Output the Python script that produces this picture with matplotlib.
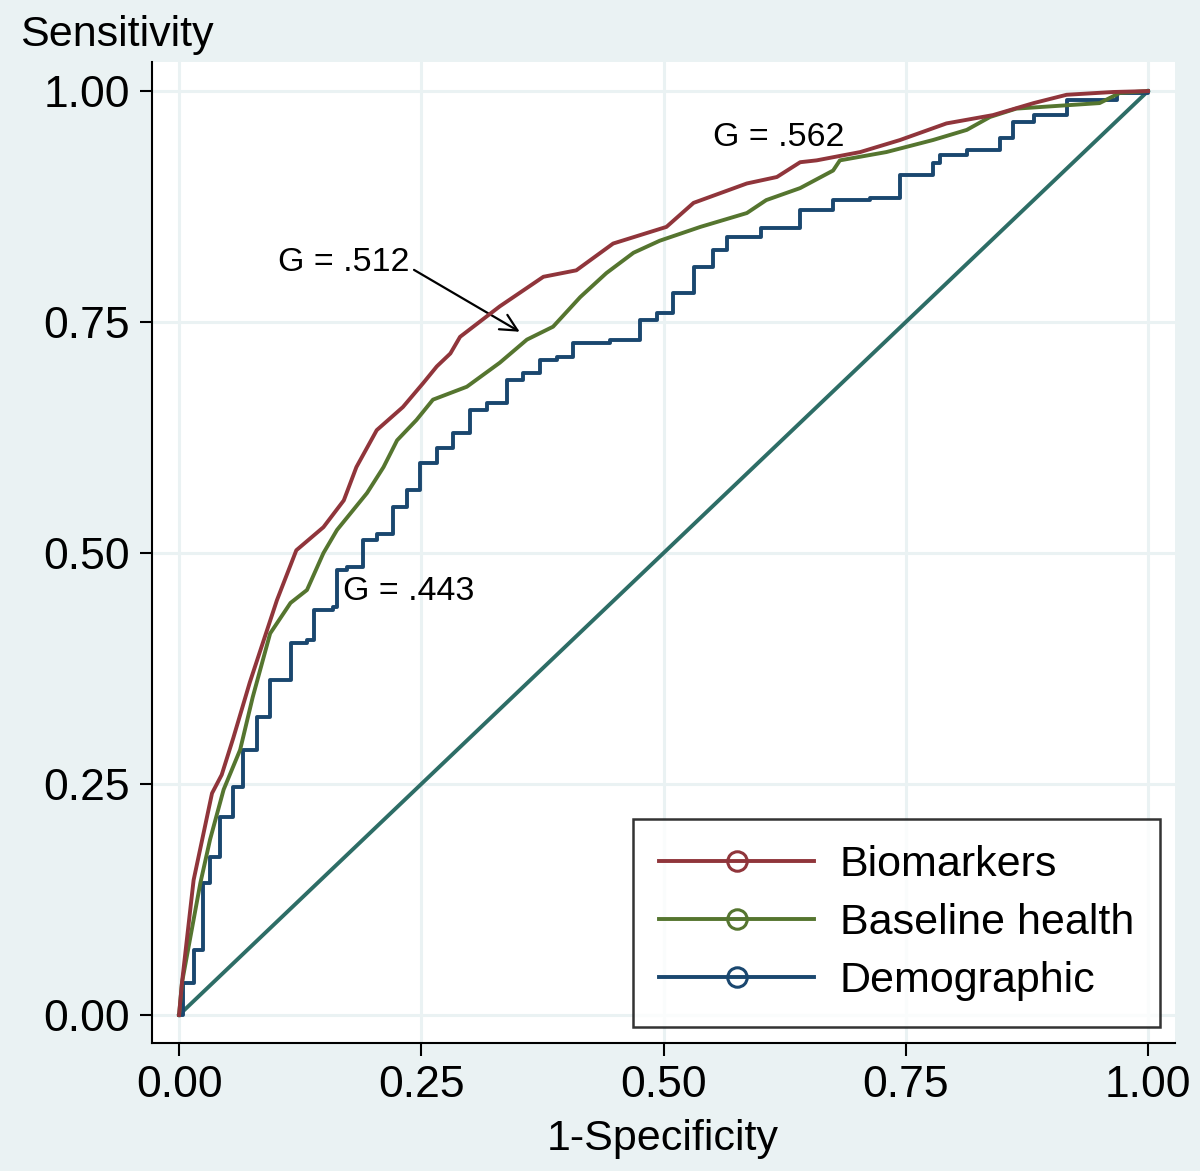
import matplotlib
matplotlib.use("Agg")
import matplotlib.pyplot as plt
from matplotlib.lines import Line2D

plt.rcParams['font.family'] = ['Liberation Sans', 'DejaVu Sans']

# Biomarkers (red)
bio_x = [0, .003, .015, .034, .044, .056, .073, .084, .101, .121, .149, .170, .183, .204, .231,
         .252, .266, .280, .290, .331, .376, .410, .448, .503, .531, .586, .617, .641, .658,
         .703, .744, .792, .840, .882, .916, .964, 1.0]
bio_y = [0, .035, .146, .24, .26, .30, .36, .395, .449, .503, .528, .557, .593, .633, .658,
         .684, .702, .716, .734, .767, .799, .806, .835, .853, .879, .900, .907, .923, .925,
         .934, .947, .965, .974, .987, .996, .999, 1.0]
# Baseline health (green)
base_x = [0, .003, .022, .032, .046, .063, .076, .094, .115, .132, .149, .163, .194, .211, .225,
          .245, .262, .297, .331, .359, .386, .414, .441, .469, .496, .538, .586, .606, .641,
          .675, .682, .730, .778, .813, .837, .864, .950, .971, 1.0]
base_y = [0, .035, .143, .19, .244, .287, .344, .413, .446, .46, .5, .525, .565, .593, .622,
          .644, .666, .68, .706, .731, .745, .777, .803, .825, .838, .853, .868, .882, .895,
          .914, .925, .934, .947, .958, .972, .981, .987, .998, 1.0]
# Demographic (blue)
demo_x = [0, .004, .015, .025, .032, .042, .056, .066, .080, .094, .115, .132, .139, .159, .163,
          .173, .190, .204, .221, .235, .249, .266, .283, .300, .318, .338, .355, .373, .390,
          .407, .445, .476, .493, .510, .531, .551, .566, .601, .641, .675, .713, .744, .778,
          .785, .813, .847, .861, .882, .916, .947, .968, 1.0]
demo_y = [0, .035, .07, .143, .171, .214, .247, .287, .323, .363, .403, .406, .438, .442, .482,
          .485, .514, .521, .55, .568, .597, .614, .630, .655, .662, .687, .695, .709, .712,
          .727, .731, .752, .76, .781, .81, .828, .842, .852, .871, .882, .884, .909, .922,
          .931, .936, .949, .967, .974, .990, .990, .998, 1.0]

ref_x = [0, 1]
ref_y = [0, 1]

ticks = [0, .25, .5, .75, 1.0]
tick_labels = ["0.00", "0.25", "0.50", "0.75", "1.00"]
series_names = ["Biomarkers", "Baseline health", "Demographic"]
colors = ["#90353B", "#55752F", "#1A476F"]
bg = "#EAF2F3"

fig = plt.figure(figsize=(12, 11.71), dpi=100, facecolor=bg)
ax = fig.add_axes([0.1267, 0.1093, 0.8525, 0.8377])
ax.set_facecolor("white")
ax.set_xlim(-0.0279, 1.0279)
ax.set_ylim(-0.0303, 1.0314)

for t in ticks:
    ax.axhline(t, color=bg, lw=2.2, zorder=0)
    ax.axvline(t, color=bg, lw=2.2, zorder=0)

lw = 2.8
ax.plot(ref_x, ref_y, color="#2D6D66", lw=lw, zorder=2)
ax.plot(demo_x, demo_y, color=colors[2], lw=lw, drawstyle='steps-post', zorder=3)
ax.plot(base_x, base_y, color=colors[1], lw=lw, zorder=4)
ax.plot(bio_x, bio_y, color=colors[0], lw=lw, zorder=5)

for s in ["top", "right"]:
    ax.spines[s].set_visible(False)
for s in ["left", "bottom"]:
    ax.spines[s].set_linewidth(1.5)
    ax.spines[s].set_color("black")

ax.set_xticks(ticks)
ax.set_xticklabels(tick_labels)
ax.set_yticks(ticks)
ax.set_yticklabels(tick_labels)
ax.tick_params(axis='both', labelsize=32, length=9, width=1.5, pad=7)

fig.text(20/1200, 1 - 35/1171, "Sensitivity", fontsize=31, ha='left', va='center')
fig.text(663/1200, 1 - 1139/1171, "1-Specificity", fontsize=31, ha='center', va='center')

ax.text(.551, .950, "G = .562", fontsize=24.5, ha='left', va='center')
ax.text(.102, .814, "G = .512", fontsize=24.5, ha='left', va='center')
ax.text(.169, .458, "G = .443", fontsize=24.5, ha='left', va='center')
ax.annotate("", xy=(.354, .738), xytext=(.240, .808),
            arrowprops=dict(arrowstyle='->', color='black', lw=1.6, mutation_scale=30))

handles = [Line2D([0], [0], color=c, lw=lw, marker='o', markersize=14,
                  markerfacecolor='none', markeredgecolor=c, markeredgewidth=2.2)
           for c in colors]
leg = ax.legend(handles, series_names, loc='lower right', fontsize=31,
                bbox_to_anchor=(0.9853, 0.0163), borderaxespad=0, frameon=True, fancybox=False,
                edgecolor='black', handlelength=3.6, handletextpad=0.6,
                borderpad=0.6, labelspacing=0.42)
leg.get_frame().set_linewidth(1.8)

fig.savefig("out.png", dpi=100, facecolor=bg)
